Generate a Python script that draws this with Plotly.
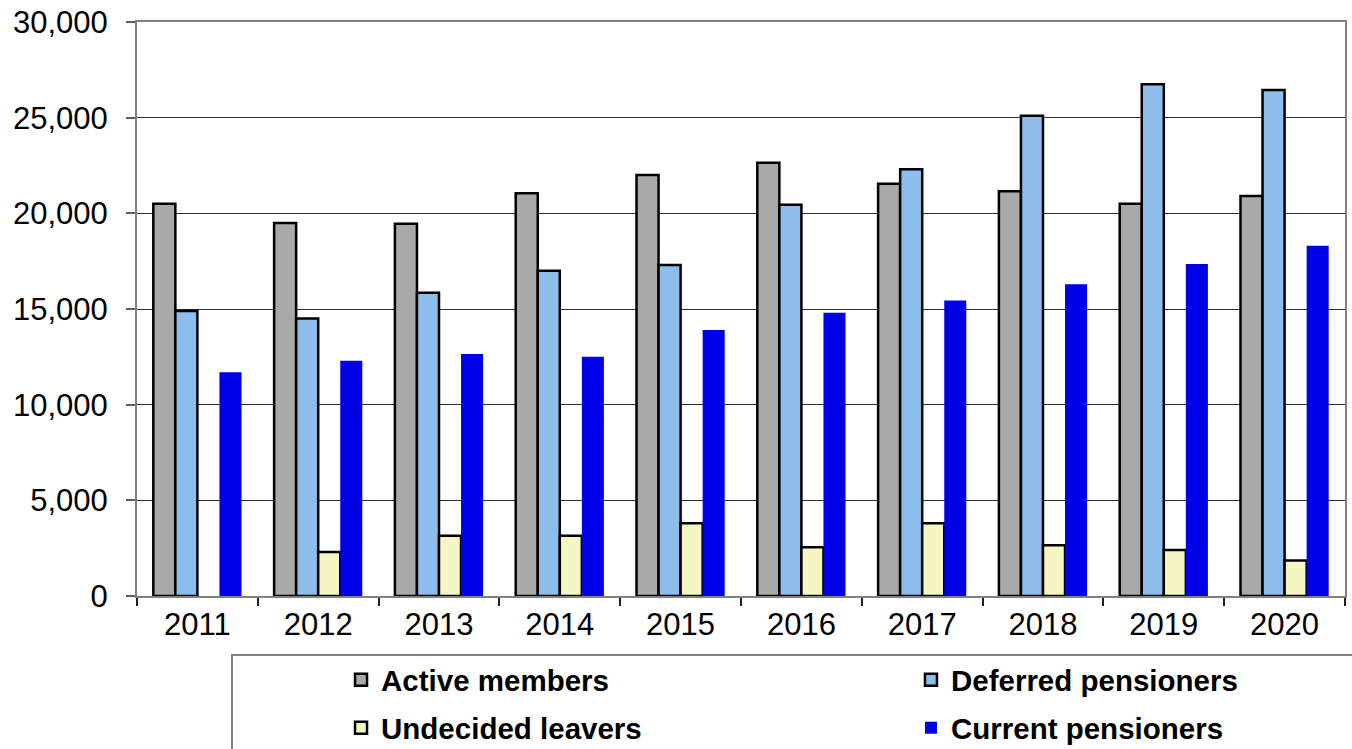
import plotly.graph_objects as go

years = ["2011", "2012", "2013", "2014", "2015", "2016", "2017", "2018", "2019", "2020"]
active_members = [20500, 19500, 19450, 21050, 22000, 22650, 21550, 21150, 20500, 20900]
deferred_pensioners = [14900, 14500, 15850, 17000, 17300, 20450, 22300, 25100, 26750, 26450]
undecided_leavers = [None, 2300, 3150, 3150, 3800, 2550, 3800, 2650, 2400, 1850]
current_pensioners = [11700, 12300, 12650, 12500, 13900, 14800, 15450, 16300, 17350, 18300]

y_ticks = [0, 5000, 10000, 15000, 20000, 25000, 30000]

FONT = "Arial, Liberation Sans, sans-serif"

fig = go.Figure()
fig.add_trace(go.Bar(name="Active members", x=years, y=active_members,
                     marker=dict(color="#a9a9a9", line=dict(color="black", width=2.5)),
                     legend="legend"))
fig.add_trace(go.Bar(name="Deferred pensioners", x=years, y=deferred_pensioners,
                     marker=dict(color="#8cbdeb", line=dict(color="black", width=2.5)),
                     legend="legend2"))
fig.add_trace(go.Bar(name="Undecided leavers", x=years, y=undecided_leavers,
                     marker=dict(color="#f6f6c4", line=dict(color="black", width=2.5)),
                     legend="legend3"))
fig.add_trace(go.Bar(name="Current pensioners", x=years, y=current_pensioners,
                     marker=dict(color="#0000e6", line=dict(width=0)),
                     legend="legend4"))

legend_common = dict(orientation="h", xanchor="left", yanchor="middle",
                     bgcolor="rgba(0,0,0,0)", borderwidth=0, visible=True,
                     font=dict(family=FONT, size=29.5, color="black", weight="bold"))

row1_y, row2_y = -0.1463, -0.23
col1_x, col2_x = 0.1689, 0.6407

fig.update_layout(
    width=1352, height=749,
    margin=dict(l=137, r=7, t=22, b=153, autoexpand=False),
    paper_bgcolor="white", plot_bgcolor="white",
    showlegend=True,
    barmode="group", bargap=0.27, bargroupgap=0,
    font=dict(family=FONT, color="black"),
    legend=dict(x=col1_x, y=row1_y, **legend_common),
    legend2=dict(x=col2_x, y=row1_y, **legend_common),
    legend3=dict(x=col1_x, y=row2_y, **legend_common),
    legend4=dict(x=col2_x, y=row2_y, **legend_common),
    xaxis=dict(type="category", tickson="boundaries", ticks="outside", ticklen=8,
               tickcolor="#202020", tickwidth=1.5, showline=True, linecolor="#808080",
               linewidth=2, mirror=True, showgrid=False, ticklabeloverflow="allow",
               tickfont=dict(size=31, family=FONT, color="black")),
    yaxis=dict(range=[0, 30000], tickvals=y_ticks, tickformat=",", ticks="outside",
               ticklen=9, tickcolor="#606060", tickwidth=1.5, showline=True,
               linecolor="#808080", linewidth=2, mirror=True, showgrid=True,
               gridcolor="#303030", gridwidth=1, zeroline=False,
               ticklabelstandoff=12, ticklabeloverflow="allow",
               tickfont=dict(size=31, family=FONT, color="black")),
    shapes=[dict(type="rect", xref="paper", yref="paper", x0=0.0786, x1=1.2,
                 y0=-0.1028, y1=-0.5, line=dict(color="#808080", width=2),
                 fillcolor="rgba(0,0,0,0)", layer="below")],
)

fig.write_html("out.html",
               config={"displayModeBar": False},
               post_script="document.body.style.margin='0';document.body.style.overflow='hidden';")
